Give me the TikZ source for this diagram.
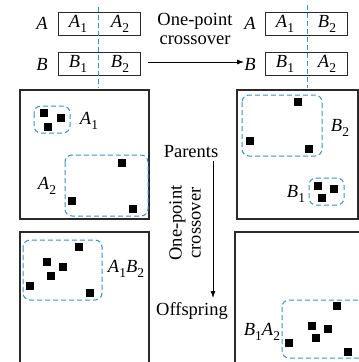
\documentclass[tikz,border=0pt]{standalone}
\usepackage{fontspec}
\setmainfont{Liberation Serif}
\usetikzlibrary{arrows.meta}
\definecolor{dblue}{HTML}{3A8FD0}
\definecolor{pgray}{HTML}{2A2A2A}
\newcommand\ms[2]{\textit{#1}\raisebox{-0.28em}{\fontsize{13.5}{13.5}\selectfont #2}}
\tikzset{
  txt/.style={inner sep=0pt, font=\fontsize{18.5}{21}\selectfont},
  cellbox/.style={draw=pgray, line width=1pt, minimum width=82pt, minimum height=23pt, inner sep=0pt},
  panel/.style={draw=pgray, line width=1.1pt},
  cut/.style={draw=dblue, dash pattern=on 5pt off 3pt, line width=1pt},
  grp/.style={draw=dblue, dash pattern=on 5pt off 3pt, line width=1pt, rounded corners=7pt},
  pt/.style={fill=black, minimum size=7.5pt, inner sep=0pt},
  arr/.style={-{Latex[length=7pt,width=5pt]}, line width=0.8pt}
}
\begin{document}
\begin{tikzpicture}[x=1pt,y=-1pt]
\useasboundingbox (0,0) rectangle (359,362);
\clip (0,0) rectangle (359,362);
% top left chromosomes
\node[cellbox] (ra) at (99,24) {};
\node[cellbox] (rb) at (99,64) {};
\node[txt] (la) at (42,23) {\textit{A}};
\node[txt] (lb) at (42,64) {\textit{B}};
\node[txt] (a1) at (78,24) {\ms{A}{1}};
\node[txt] (a2) at (120,24) {\ms{A}{2}};
\node[txt] (b1) at (78,64) {\ms{B}{1}};
\node[txt] (b2) at (120,64) {\ms{B}{2}};
\coordinate (c1t) at (98,7);
\coordinate (c1b) at (98,88);
\draw[cut] (c1t) -- (c1b);
% top right chromosomes
\node[cellbox] (qa) at (306,24) {};
\node[cellbox] (qb) at (306,64) {};
\node[txt] (ma) at (250,23) {\textit{A}};
\node[txt] (mb) at (250,64) {\textit{B}};
\node[txt] (p1) at (285,24) {\ms{A}{1}};
\node[txt] (p2) at (327,24) {\ms{B}{2}};
\node[txt] (q1) at (285,64) {\ms{B}{1}};
\node[txt] (q2) at (327,64) {\ms{A}{2}};
\coordinate (c2t) at (307,5);
\coordinate (c2b) at (307,88);
\draw[cut] (c2t) -- (c2b);
% horizontal arrow
\coordinate (h1) at (148,62);
\coordinate (h2) at (244,62);
\draw[arr] (h1) -- (h2);
\node[txt, align=center] (hl) at (195,29) {One-point\\[-2pt]crossover};
% panels
\draw[panel] (20,90) rectangle (149,219);
\draw[panel] (237,90) rectangle (358,219);
\draw[panel] (20,232) rectangle (149,370);
\draw[panel] (235,232) rectangle (370,370);
% panel 1
\draw[grp] (34,106) rectangle (70,133);
\node[pt] (s1) at (44,113) {};
\node[pt] (s2) at (61,118) {};
\node[pt] (s3) at (48,127) {};
\node[txt] (lA1) at (89,121) {\ms{A}{1}};
\draw[grp] (65,155) rectangle (148,216);
\node[pt] (s4) at (122,163) {};
\node[pt] (s5) at (72,201) {};
\node[pt] (s6) at (133,209) {};
\node[txt] (lA2) at (47,186) {\ms{A}{2}};
% panel 2
\draw[grp] (242,95) rectangle (322,156);
\node[pt] (t1) at (298,102) {};
\node[pt] (t2) at (250,141) {};
\node[pt] (t3) at (309,149) {};
\node[txt] (lB2) at (340,128) {\ms{B}{2}};
\draw[grp] (309,178) rectangle (344,205);
\node[pt] (t4) at (318,186) {};
\node[pt] (t5) at (334,189) {};
\node[pt] (t6) at (322,198) {};
\node[txt] (lB1) at (296,194) {\ms{B}{1}};
% panel 3
\draw[grp] (23,240) rectangle (102,300);
\node[pt] (u1) at (79,247) {};
\node[pt] (u2) at (47,262) {};
\node[pt] (u3) at (63,267) {};
\node[pt] (u4) at (51,276) {};
\node[pt] (u5) at (30,286) {};
\node[pt] (u6) at (90,293) {};
\node[txt] (lA1B2) at (126,269) {\ms{A}{1}\ms{B}{2}};
% panel 4
\draw[grp] (282,300) rectangle (366,358);
\node[pt] (v1) at (337,306) {};
\node[pt] (v2) at (312,326) {};
\node[pt] (v3) at (328,329) {};
\node[pt] (v4) at (316,338) {};
\node[pt] (v5) at (289,343) {};
\node[pt] (v6) at (348,352) {};
\node[txt] (lB1A2) at (262,332) {\ms{B}{1}\ms{A}{2}};
% vertical arrow
\node[txt] (par) at (191,152) {Parents};
\node[txt] (off) at (192,311) {Offspring};
\coordinate (v1t) at (213,161);
\coordinate (v1b) at (213,298);
\draw[arr] (v1t) -- (v1b);
\node[txt, align=center, rotate=90] (vl) at (185,223) {One-point\\[-2pt]crossover};
\end{tikzpicture}
\end{document}
